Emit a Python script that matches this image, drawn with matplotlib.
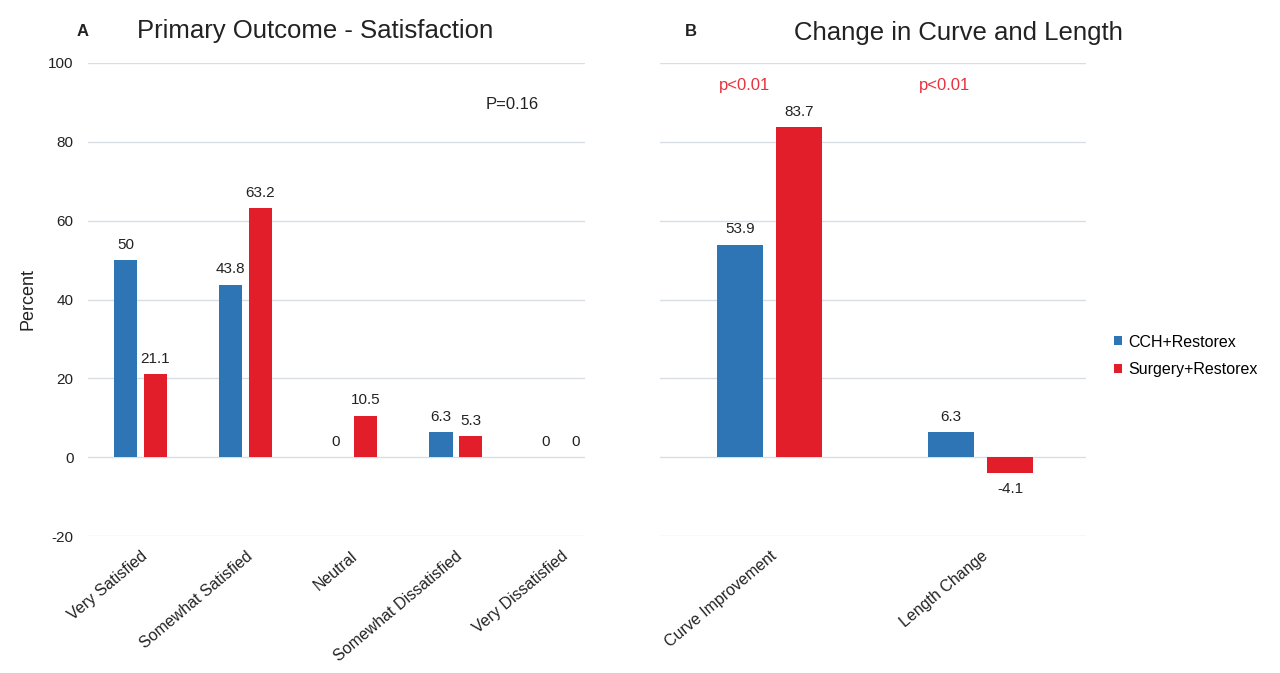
import matplotlib
matplotlib.use("Agg")
import matplotlib.pyplot as plt
import numpy as np

plt.rcParams['font.family'] = ['Liberation Sans', 'DejaVu Sans']
plt.rcParams['axes.unicode_minus'] = False

# Data
sat_categories = ["Very Satisfied", "Somewhat Satisfied", "Neutral",
                  "Somewhat Dissatisfied", "Very Dissatisfied"]
sat_cch = [50, 43.8, 0, 6.3, 0]
sat_surgery = [21.1, 63.2, 10.5, 5.3, 0]

chg_categories = ["Curve Improvement", "Length Change"]
chg_cch = [53.9, 6.3]
chg_surgery = [83.7, -4.1]

series_names = ["CCH+Restorex", "Surgery+Restorex"]
yticks = [-20, 0, 20, 40, 60, 80, 100]

pvalue_a = "P=0.16"
pvalues_b = ["p<0.01", "p<0.01"]

BLUE = "#2E75B6"
RED = "#E21E2B"
GRID = "#D9DEE4"
TXT = "#222222"

fig = plt.figure(figsize=(12.8, 6.73), dpi=100)
H = 673.0
W = 1280.0
ax1 = fig.add_axes([88 / W, 1 - 536 / H, (585 - 88) / W, (536 - 63) / H])
ax2 = fig.add_axes([660 / W, 1 - 536 / H, (1086 - 660) / W, (536 - 63) / H])

off = 0.14
bw = 0.22


def style(ax, show_labels):
    ax.set_ylim(-20, 100)
    ax.set_yticks(yticks)
    ax.yaxis.grid(True, color=GRID, linewidth=1.0)
    ax.set_axisbelow(True)
    for s in ax.spines.values():
        s.set_visible(False)
    ax.tick_params(axis='both', length=0, labelsize=11, colors=TXT)
    ax.tick_params(axis='y', pad=10.5)
    if not show_labels:
        ax.set_yticklabels([])


def label_bars(ax, bars, vals):
    for b, v in zip(bars, vals):
        x = b.get_x() + b.get_width() / 2
        txt = f"{v:g}"
        if v < 0:
            ax.annotate(txt, (x, v), xytext=(0, -6), textcoords="offset points",
                        ha='center', va='top', fontsize=11, color=TXT)
        else:
            ax.annotate(txt, (x, v), xytext=(0, 6), textcoords="offset points",
                        ha='center', va='bottom', fontsize=11, color=TXT)


# Panel A
x1 = np.arange(len(sat_categories))
b1 = ax1.bar(x1 - off, sat_cch, bw, color=BLUE, label=series_names[0])
b2 = ax1.bar(x1 + off, sat_surgery, bw, color=RED, label=series_names[1])
label_bars(ax1, b1, sat_cch)
label_bars(ax1, b2, sat_surgery)
style(ax1, True)
ax1.set_xlim(-0.5, 4.23)
ax1.set_xticks(x1)
ax1.set_xticklabels(sat_categories, rotation=40, ha='right',
                    rotation_mode='anchor', fontsize=11.5)
ax1.tick_params(axis='x', pad=9)
ax1.set_ylabel("Percent", fontsize=13, color=TXT, labelpad=8)
ax1.text(3.54, 89.5, pvalue_a, ha='center', va='center', fontsize=12, color=TXT)

# Panel B
x2 = np.arange(len(chg_categories))
c1 = ax2.bar(x2 - off, chg_cch, bw, color=BLUE, label=series_names[0])
c2 = ax2.bar(x2 + off, chg_surgery, bw, color=RED, label=series_names[1])
label_bars(ax2, c1, chg_cch)
label_bars(ax2, c2, chg_surgery)
style(ax2, False)
ax2.set_xlim(-0.52, 1.5)
ax2.set_xticks(x2)
ax2.set_xticklabels(chg_categories, rotation=40, ha='right',
                    rotation_mode='anchor', fontsize=11.5)
ax2.tick_params(axis='x', pad=9)
p_x = [-0.12, 0.83]
for xx, pv in zip(p_x, pvalues_b):
    ax2.text(xx, 94.4, pv, ha='center', va='center',
             fontsize=12, color="#E8323C")

# Titles
fig.text(83 / W, 1 - 32 / H, "A", fontsize=12, fontweight='bold', ha='center', va='center', color=TXT)
fig.text(315 / W, 1 - 31 / H, "Primary Outcome - Satisfaction", fontsize=18.5,
         ha='center', va='center', color=TXT)
fig.text(691 / W, 1 - 32 / H, "B", fontsize=12, fontweight='bold', ha='center', va='center', color=TXT)
fig.text(958 / W, 1 - 33 / H, "Change in Curve and Length", fontsize=18.5,
         ha='center', va='center', color=TXT)

# Legend
handles, labels = ax2.get_legend_handles_labels()
fig.legend(handles, labels, loc='center left',
           bbox_to_anchor=(1100 / W, 1 - 356 / H), frameon=False,
           fontsize=11.5, handlelength=0.5, handleheight=0.5,
           handletextpad=0.35, labelspacing=0.8)

fig.savefig("out.png", dpi=100, facecolor='white')
